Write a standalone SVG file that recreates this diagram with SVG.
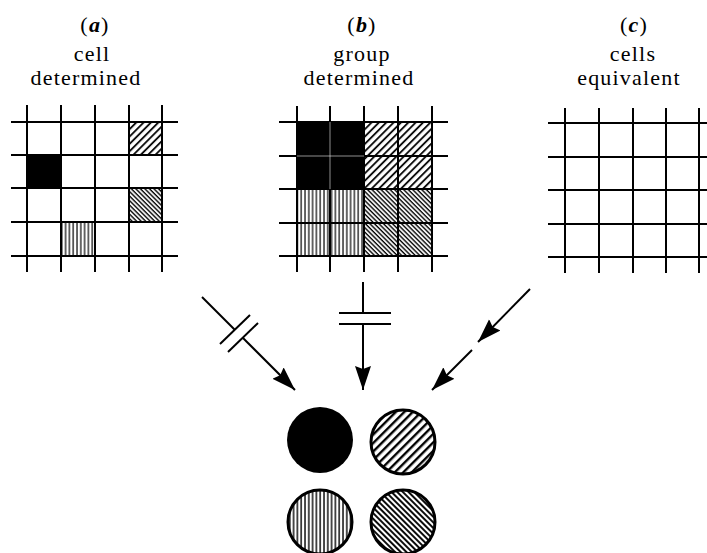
<svg xmlns="http://www.w3.org/2000/svg" width="707" height="553" viewBox="0 0 707 553">
<style>
.t{font-family:"Liberation Serif","Times New Roman",serif;font-size:22px;letter-spacing:1.2px;fill:#000;text-anchor:middle}
.g line{stroke:#000;stroke-width:2}
.c{stroke:#000;stroke-width:2;fill:none}
.ci{stroke:#000;stroke-width:3}
</style>
<defs>
<pattern id="fa" patternUnits="userSpaceOnUse" width="5.2" height="5.2" patternTransform="rotate(45)"><rect width="5.2" height="5.2" fill="#fff"/><line x1="1" y1="0" x2="1" y2="5.2" stroke="#000" stroke-width="1.8"/></pattern>
<pattern id="ba" patternUnits="userSpaceOnUse" width="3.2" height="3.2" patternTransform="rotate(-45)"><rect width="3.2" height="3.2" fill="#fff"/><line x1="1" y1="0" x2="1" y2="3.2" stroke="#000" stroke-width="1.4"/></pattern>
<pattern id="va" patternUnits="userSpaceOnUse" width="3.8" height="3.8"><rect width="3.8" height="3.8" fill="#fff"/><line x1="1" y1="0" x2="1" y2="3.8" stroke="#000" stroke-width="1.2"/></pattern>
<pattern id="fc" patternUnits="userSpaceOnUse" width="6" height="6" patternTransform="rotate(45)"><rect width="6" height="6" fill="#fff"/><line x1="1.2" y1="0" x2="1.2" y2="6" stroke="#000" stroke-width="2.4"/></pattern>
<pattern id="bc" patternUnits="userSpaceOnUse" width="4" height="4" patternTransform="rotate(-45)"><rect width="4" height="4" fill="#fff"/><line x1="1" y1="0" x2="1" y2="4" stroke="#000" stroke-width="1.9"/></pattern>
<pattern id="vc" patternUnits="userSpaceOnUse" width="3.8" height="3.8"><rect width="3.8" height="3.8" fill="#fff"/><line x1="1" y1="0" x2="1" y2="3.8" stroke="#000" stroke-width="1.4"/></pattern>
<marker id="ah" markerUnits="userSpaceOnUse" markerWidth="26" markerHeight="18" refX="24" refY="8" orient="auto"><path d="M0,0 L24,8 L0,16 L3,8 Z" fill="#000"/></marker>
</defs>

<g id="panel-a">
<text class="t" x="95" y="32">(<tspan font-style="italic" font-weight="bold">a</tspan>)</text>
<text class="t" x="92" y="61">cell</text>
<text class="t" x="86" y="85">determined</text>
<rect x="27" y="155" width="34" height="33" fill="#000"/>
<rect x="129" y="122" width="33" height="33" fill="url(#fa)"/>
<rect x="129" y="188" width="33" height="34" fill="url(#ba)"/>
<rect x="61" y="222" width="34" height="34" fill="url(#va)"/>
<g class="g">
<line x1="27" y1="105" x2="27" y2="272"/><line x1="61" y1="105" x2="61" y2="272"/><line x1="95" y1="105" x2="95" y2="272"/><line x1="129" y1="105" x2="129" y2="272"/><line x1="162" y1="105" x2="162" y2="272"/>
<line x1="11" y1="122" x2="178" y2="122"/><line x1="11" y1="155" x2="178" y2="155"/><line x1="11" y1="188" x2="178" y2="188"/><line x1="11" y1="222" x2="178" y2="222"/><line x1="11" y1="256" x2="178" y2="256"/>
</g>
</g>

<g id="panel-b">
<text class="t" x="362" y="32">(<tspan font-style="italic" font-weight="bold">b</tspan>)</text>
<text class="t" x="362" y="61">group</text>
<text class="t" x="359" y="85">determined</text>
<rect x="297" y="122" width="67" height="67" fill="#000"/>
<rect x="364" y="122" width="68" height="67" fill="url(#fa)"/>
<rect x="297" y="189" width="67" height="67" fill="url(#va)"/>
<rect x="364" y="189" width="68" height="67" fill="url(#ba)"/>
<g class="g">
<line x1="297" y1="106" x2="297" y2="272"/><line x1="330" y1="106" x2="330" y2="122"/><line x1="330" y1="189" x2="330" y2="272"/><line x1="364" y1="106" x2="364" y2="272"/><line x1="398" y1="106" x2="398" y2="272"/><line x1="432" y1="106" x2="432" y2="272"/>
<line x1="279" y1="122" x2="448" y2="122"/><line x1="279" y1="156" x2="297" y2="156"/><line x1="364" y1="156" x2="448" y2="156"/><line x1="279" y1="189" x2="448" y2="189"/><line x1="279" y1="223" x2="448" y2="223"/><line x1="279" y1="256" x2="448" y2="256"/>
</g>
<line x1="330" y1="122" x2="330" y2="189" stroke="#fff" stroke-width="0.8" opacity="0.7"/>
<line x1="297" y1="156" x2="364" y2="156" stroke="#fff" stroke-width="0.8" opacity="0.7"/>
</g>

<g id="panel-c">
<text class="t" x="634" y="32">(<tspan font-style="italic" font-weight="bold">c</tspan>)</text>
<text class="t" x="633" y="61">cells</text>
<text class="t" x="629" y="85">equivalent</text>
<g class="g">
<line x1="565" y1="108" x2="565" y2="273"/><line x1="599" y1="108" x2="599" y2="273"/><line x1="633" y1="108" x2="633" y2="273"/><line x1="666" y1="108" x2="666" y2="273"/><line x1="699" y1="108" x2="699" y2="273"/>
<line x1="548" y1="123" x2="707" y2="123"/><line x1="548" y1="157" x2="707" y2="157"/><line x1="548" y1="190" x2="707" y2="190"/><line x1="548" y1="224" x2="707" y2="224"/><line x1="548" y1="257" x2="707" y2="257"/>
</g>
</g>

<g id="connectors">
<line class="c" x1="202" y1="297" x2="235" y2="330"/>
<line class="c" x1="220" y1="344" x2="250" y2="315"/>
<line class="c" x1="228" y1="352" x2="258" y2="323"/>
<line class="c" x1="243" y1="338" x2="295" y2="390" marker-end="url(#ah)"/>
<line class="c" x1="363" y1="282" x2="363" y2="313"/>
<line class="c" x1="339" y1="313" x2="391" y2="313"/>
<line class="c" x1="339" y1="324" x2="391" y2="324"/>
<line class="c" x1="363" y1="324" x2="363" y2="390" marker-end="url(#ah)"/>
<line class="c" x1="530" y1="289" x2="478" y2="342" marker-end="url(#ah)"/>
<line class="c" x1="472" y1="350" x2="432" y2="390" marker-end="url(#ah)"/>
</g>

<g id="circle-black"><circle cx="320" cy="440" r="33" fill="#000"/></g>
<g id="circle-forward"><circle class="ci" cx="403" cy="442" r="32" fill="url(#fc)"/></g>
<g id="circle-vertical"><circle class="ci" cx="320" cy="522" r="32" fill="url(#vc)"/></g>
<g id="circle-back"><circle class="ci" cx="403" cy="522" r="32" fill="url(#bc)"/></g>
</svg>
